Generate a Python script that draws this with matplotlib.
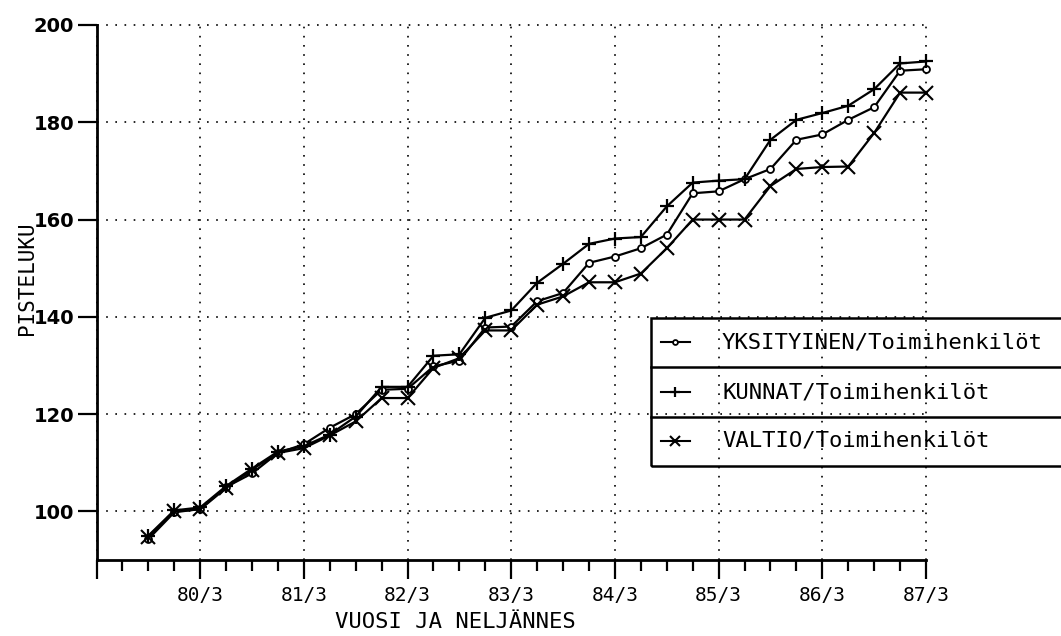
import matplotlib
matplotlib.use("Agg")
import matplotlib.pyplot as plt
from matplotlib.lines import Line2D
from matplotlib.patches import Rectangle
from matplotlib.ticker import MultipleLocator, FixedLocator

# vuosineljännekset 80/1 ... 87/3
neljannekset = ["80/1", "80/2", "80/3", "80/4", "81/1", "81/2", "81/3", "81/4",
                "82/1", "82/2", "82/3", "82/4", "83/1", "83/2", "83/3", "83/4",
                "84/1", "84/2", "84/3", "84/4", "85/1", "85/2", "85/3", "85/4",
                "86/1", "86/2", "86/3", "86/4", "87/1", "87/2", "87/3"]

yksityinen = [94.3, 99.8, 100.5, 105.0, 107.8, 112.0, 113.8, 117.2,
              120.0, 125.0, 125.2, 129.8, 131.0, 137.8, 138.0, 143.2,
              144.9, 151.1, 152.4, 154.1, 156.9, 165.4, 165.8, 168.3,
              170.4, 176.4, 177.5, 180.5, 183.1, 190.6, 190.9]
kunnat = [95.0, 100.2, 100.8, 105.2, 108.8, 112.3, 113.4, 115.8,
          119.5, 125.6, 125.6, 132.0, 132.3, 139.8, 141.3, 147.0,
          150.9, 155.0, 156.1, 156.4, 162.7, 167.6, 168.0, 168.3,
          176.4, 180.5, 181.9, 183.4, 186.8, 192.1, 192.5]
valtio = [94.8, 100.0, 100.4, 104.8, 108.6, 112.0, 113.0, 115.6,
          118.5, 123.3, 123.3, 129.5, 131.5, 137.2, 137.2, 142.5,
          144.2, 147.1, 147.1, 148.9, 154.1, 160.0, 160.0, 160.0,
          166.9, 170.4, 170.8, 170.9, 177.8, 186.1, 186.1]

sarjat = ["YKSITYINEN/Toimihenkilöt", "KUNNAT/Toimihenkilöt", "VALTIO/Toimihenkilöt"]
x_merkit = ["79/3", "80/3", "81/3", "82/3", "83/3", "84/3", "85/3", "86/3", "87/3"]
y_merkit = [100, 120, 140, 160, 180, 200]


def paikka(s):
    v, q = s.split("/")
    return int(v) + (int(q) - 1) / 4


x = [paikka(s) for s in neljannekset]

W, H = 1061, 636
fig = plt.figure(figsize=(W / 100, H / 100), dpi=100)
ax = fig.add_axes([96.5 / W, 1 - 560 / H, (926 - 96.5) / W, (560 - 25) / H])

tyylit = [dict(marker="o", markersize=5, markerfacecolor="white", markeredgewidth=1.3),
          dict(marker="+", markersize=10, markeredgewidth=1.6),
          dict(marker="x", markersize=9.5, markeredgewidth=1.5)]
for data, tyyli in zip([yksityinen, kunnat, valtio], tyylit):
    ax.plot(x, data, color="black", linewidth=1.6, zorder=3, clip_on=False, **tyyli)

ax.set_xlim(paikka("79/3"), paikka("87/3"))
ax.set_ylim(90, 200)

xt = [paikka(s) for s in x_merkit]
ax.xaxis.set_major_locator(FixedLocator(xt))
ax.set_xticklabels([""] + x_merkit[1:], family="DejaVu Sans Mono", fontsize=14)
ax.xaxis.set_minor_locator(MultipleLocator(0.25))
ax.yaxis.set_major_locator(FixedLocator(y_merkit))
ax.set_yticklabels([str(v) for v in y_merkit], family="DejaVu Sans", fontweight="bold", fontsize=14)

ax.tick_params(axis="x", which="major", direction="out", length=14, width=1.6, pad=5)
ax.tick_params(axis="x", which="minor", direction="out", length=8, width=1.6)
ax.tick_params(axis="y", which="major", direction="out", length=14, width=1.6, pad=2)

for s in ["top", "right"]:
    ax.spines[s].set_visible(False)
for s in ["left", "bottom"]:
    ax.spines[s].set_linewidth(2)

ax.grid(True, which="major", color="black", linestyle=(0, (1, 4.5)), linewidth=1.2)
for g in ax.get_xgridlines() + ax.get_ygridlines():
    g.set_clip_on(False)

fig.text(27 / W, 1 - 278 / H, "PISTELUKU", rotation=90, ha="center", va="center",
         family="DejaVu Sans Mono", fontsize=15)
fig.text(455 / W, 1 - 622 / H, "VUOSI JA NELJÄNNES", ha="center", va="center",
         family="DejaVu Sans Mono", fontsize=16)

# selite laatikossa
def fx(px):
    return px / W


def fy(py):
    return 1 - py / H


fig.patches.append(Rectangle((fx(651), fy(466)), fx(1100) - fx(651), fy(318) - fy(466),
                             transform=fig.transFigure, fill=False, edgecolor="black",
                             linewidth=1.8, clip_on=False))
for yy in [367, 417]:
    fig.add_artist(Line2D([fx(651), fx(1100)], [fy(yy), fy(yy)], transform=fig.transFigure,
                          color="black", linewidth=1.8))
for rivi, (nimi, tyyli) in enumerate(zip(sarjat, tyylit)):
    yy = [342, 392, 441][rivi]
    fig.add_artist(Line2D([fx(661), fx(690)], [fy(yy), fy(yy)], transform=fig.transFigure,
                          color="black", linewidth=1.5))
    t = dict(tyyli)
    t["markersize"] = t["markersize"] * 0.7
    fig.add_artist(Line2D([fx(675)], [fy(yy)], transform=fig.transFigure,
                          color="black", linestyle="none", **t))
    fig.text(fx(722), fy(yy), nimi, ha="left", va="center",
             family="DejaVu Sans Mono", fontsize=16)

fig.savefig("out.png", dpi=100)
